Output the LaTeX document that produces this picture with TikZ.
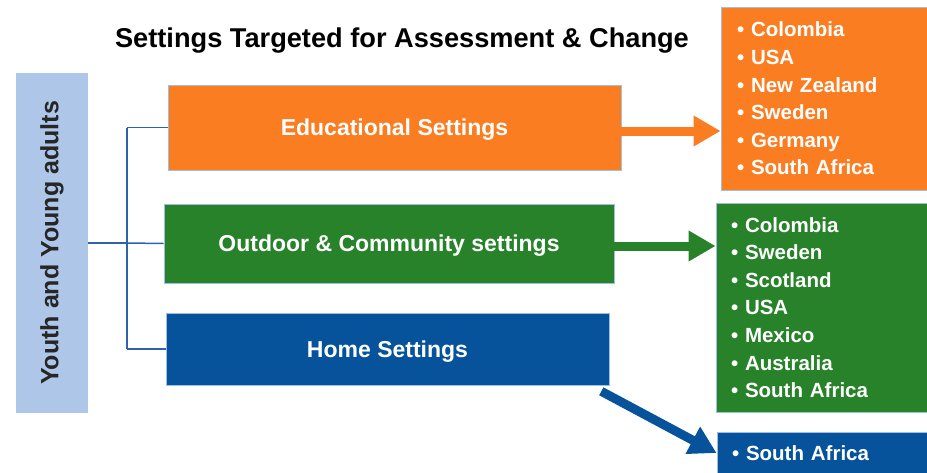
\documentclass[tikz,border=0pt]{standalone}
\usepackage{fontspec}
\setmainfont{Liberation Sans}
\usetikzlibrary{arrows.meta}
\definecolor{cOr}{HTML}{FB7D22}
\definecolor{cGr}{HTML}{27822A}
\definecolor{cBl}{HTML}{06539B}
\definecolor{cLb}{HTML}{AEC6E8}
\definecolor{cLn}{HTML}{2F62AA}
\definecolor{cBd}{HTML}{9DBFE3}
\begin{document}
\begin{tikzpicture}[x=1pt,y=-1pt,
  mainbox/.style={draw=cBd, line width=0.6pt, inner sep=0pt, text depth=0pt, text=white, font=\bfseries\fontsize{23}{27}\selectfont},
  listbox/.style={draw=cBd, line width=0.8pt, inner ysep=0pt, text=white, align=left, font=\bfseries\fontsize{20.5}{27.6}\selectfont},
  conn/.style={draw=cLn, line width=1.5pt},
  bigarrow/.style={line width=9pt, -{Triangle[length=27pt,width=29pt]}}
]
\useasboundingbox (0,0) rectangle (927,472);
\node[font=\bfseries\fontsize{27.2}{32}\selectfont] (title) at (402,41) {Settings Targeted for Assessment \& Change};
\node[fill=cLb, minimum width=72pt, minimum height=340pt, inner sep=0pt] (yya) at (52,243) {};
\node[rotate=90, text=black!85, font=\bfseries\fontsize{25}{30}\selectfont] (yyat) at (yya.center) {Youth and Young adults};
\node[mainbox, fill=cOr, minimum width=453pt, minimum height=85pt] (edu) at (394.5,127.5) {Educational Settings};
\node[mainbox, fill=cGr, minimum width=450pt, minimum height=79pt] (out) at (389,243.5) {Outdoor \& Community settings};
\node[mainbox, fill=cBl, minimum width=443pt, minimum height=72pt] (home) at (387.5,349) {Home Settings};
\path[conn] (yya.east) -- (127,243) coordinate (jn);
\path[conn] (jn |- edu.west) -- (jn |- home.west);
\path[conn] (jn |- edu.west) -- (edu.west);
\path[conn] (jn) -- (out.west);
\path[conn] (jn |- home.west) -- (home.west);
\node[listbox, fill=cOr, minimum height=183pt, text width=178pt, inner xsep=16pt] (olist) at (826,98.5) {• Colombia\\• USA\\• New Zealand\\• Sweden\\• Germany\\• South Africa};
\node[listbox, fill=cGr, minimum height=209pt, text width=184pt, inner xsep=15pt] (glist) at (823,307.5) {• Colombia\\• Sweden\\• Scotland\\• USA\\• Mexico\\• Australia\\• South Africa};
\node[listbox, fill=cBl, minimum height=43pt, text width=183pt, inner xsep=15pt] (blist) at (823.5,453.5) {• South Africa};
\draw[bigarrow, cOr] (edu.east |- 0,131) -- (olist.west |- 0,131);
\draw[bigarrow, cGr] (out.east |- 0,246) -- (glist.west |- 0,246);
\draw[bigarrow, cBl] ([xshift=-8pt,yshift=-6pt]home.south east) -- (blist.west |- 0,453);
\end{tikzpicture}
\end{document}
